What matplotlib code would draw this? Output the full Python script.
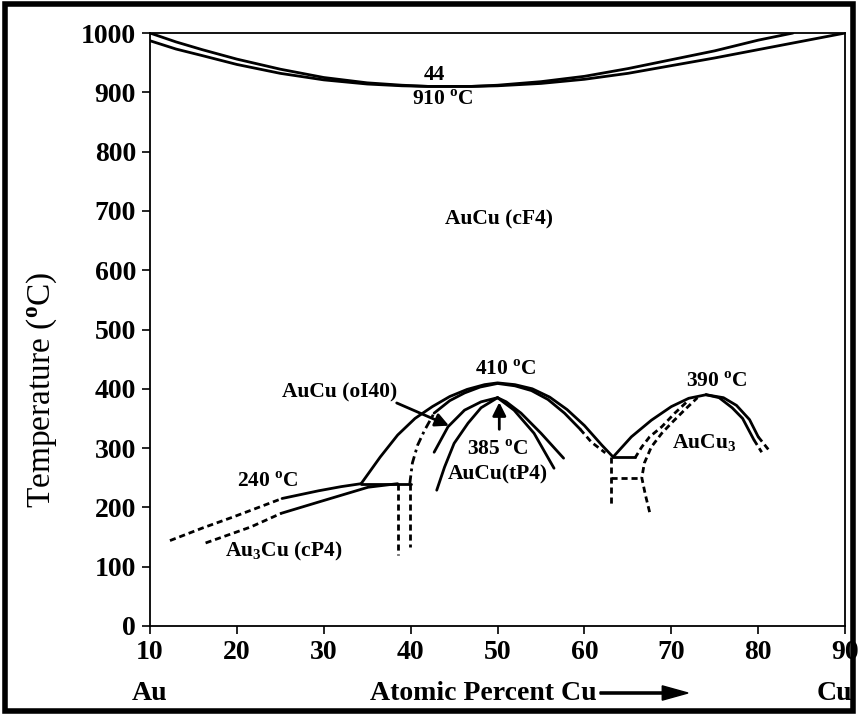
import matplotlib
matplotlib.use('Agg')
import matplotlib.pyplot as plt
from matplotlib.patches import Rectangle, FancyArrow

plt.rcParams['font.family'] = ['Liberation Serif', 'DejaVu Serif']
plt.rcParams['font.weight'] = 'bold'
plt.rcParams['mathtext.fontset'] = 'custom'
plt.rcParams['mathtext.rm'] = 'Liberation Serif:bold'
plt.rcParams['mathtext.sf'] = 'Liberation Serif'

# liquidus / solidus
liq_x = [10, 13, 16, 20, 25, 30, 35, 39, 42, 47, 50, 55, 60, 65, 70, 75, 80, 84]
liq_T = [1000, 985, 972, 956, 939, 925, 916, 912, 910, 910, 912, 918, 927, 940, 955, 970, 988, 1000]
sol_x = [10, 13, 16, 20, 25, 30, 35, 39, 42, 47, 50, 55, 60, 65, 70, 75, 80, 85, 90]
sol_T = [987, 973, 962, 947, 932, 921, 914, 911, 910, 910, 911, 915, 922, 932, 945, 958, 972, 986, 1000]

# Au3Cu (cP4)
cp4_up_dash_x = [12.3, 16, 19.6, 22.5, 25.2]
cp4_up_dash_T = [144, 165, 184, 200, 215]
cp4_up_x = [25.2, 29.4, 32, 34.3]
cp4_up_T = [215, 228, 235, 240]
cp4_lo_dash_x = [16.4, 21.6, 25.1]
cp4_lo_dash_T = [140, 167, 190]
cp4_lo_x = [25.1, 29.4, 35.1, 38.5]
cp4_lo_T = [190, 209, 234, 240]
eut240_x = [34.3, 40.0]
eut240_T = [240, 240]
vert1_x = [38.5, 38.5]
vert1_T = [240, 119]
vert2_x = [39.9, 39.9]
vert2_T = [240, 134]

# AuCu (oI40)
oi40_out_x = [34.3, 36.5, 38.5, 40.5, 42.5, 44.5, 46.5, 48.5, 50, 52, 54, 56, 58, 60, 62, 63.3]
oi40_out_T = [240, 285, 322, 350, 370, 387, 399, 407, 410, 407, 400, 386, 365, 338, 305, 285]
oi40_in_dash_x = [39.9, 40.2, 40.8, 41.6, 42.7]
oi40_in_dash_T = [240, 275, 305, 330, 359]
oi40_in_x = [42.7, 44.5, 46.2, 48, 50, 52, 53.9, 55.8, 57.7, 59.5]
oi40_in_T = [359, 380, 393, 403, 409, 405, 397, 382, 359, 332]
oi40_in_rdash_x = [59.5, 60.8, 62.4]
oi40_in_rdash_T = [332, 310, 292]

# AuCu (tP4)
tp4_a_x = [42.7, 44.3, 46.2, 48.1, 50]
tp4_a_T = [293, 336, 364, 378, 385]
tp4_b_x = [43, 43.9, 45, 46.6, 48.1, 50]
tp4_b_T = [229, 268, 308, 342, 368, 385]
tp4_c_x = [50, 51, 52.7, 55, 57.6]
tp4_c_T = [385, 378, 359, 325, 283]
tp4_d_x = [50, 51.9, 54.2, 56.5]
tp4_d_T = [385, 364, 325, 266]

# AuCu3
c3_left_x = [63.3, 65.4, 67.7, 70, 72, 74]
c3_left_T = [285, 319, 347, 370, 384, 390]
c3_ro_x = [74, 76, 77.5, 79, 80]
c3_ro_T = [390, 385, 372, 348, 319]
c3_ro_dash_x = [80, 81.2]
c3_ro_dash_T = [319, 297]
c3_ri_x = [74, 75.5, 77, 78.2, 79.5]
c3_ri_T = [390, 385, 368, 350, 314]
c3_ri_dash_x = [79.5, 80.4]
c3_ri_dash_T = [314, 293]
c3_d1_x = [65.8, 66.6, 67.5, 68.9, 70.4, 72.0]
c3_d1_T = [283, 302, 319, 336, 359, 381]
c3_d2_x = [67.5, 67.0, 66.6, 66.9, 67.7, 68.9, 70.0, 71.5, 73]
c3_d2_T = [192, 222, 250, 275, 302, 325, 342, 364, 385]
eut285_x = [63.3, 65.8]
eut285_T = [285, 285]
dash250_x = [63.1, 66.6]
dash250_T = [250, 250]
vert3_x = [63.1, 63.1]
vert3_T = [285, 204]

x_ticks = [10, 20, 30, 40, 50, 60, 70, 80, 90]
y_ticks = [0, 100, 200, 300, 400, 500, 600, 700, 800, 900, 1000]

fig = plt.figure(figsize=(8.58, 7.15), dpi=100)
ax = fig.add_axes([0.1748, 0.1245, 0.8102, 0.8293])

lw = 2.0
dash = (2.2, 1.4)
solid = dict(color='black', lw=lw, solid_capstyle='round')
dashed = dict(color='black', lw=lw, linestyle=(0, dash))

ax.plot(liq_x, liq_T, **solid)
ax.plot(sol_x, sol_T, **solid)

ax.plot(cp4_up_dash_x, cp4_up_dash_T, **dashed)
ax.plot(cp4_up_x, cp4_up_T, **solid)
ax.plot(cp4_lo_dash_x, cp4_lo_dash_T, **dashed)
ax.plot(cp4_lo_x, cp4_lo_T, **solid)
ax.plot(eut240_x, eut240_T, **solid)
ax.plot(vert1_x, vert1_T, **dashed)
ax.plot(vert2_x, vert2_T, **dashed)

ax.plot(oi40_out_x, oi40_out_T, **solid)
ax.plot(oi40_in_dash_x, oi40_in_dash_T, color='black', lw=lw, linestyle=(0, (3, 1.5, 1, 1.5)))
ax.plot(oi40_in_x, oi40_in_T, **solid)
ax.plot(oi40_in_rdash_x, oi40_in_rdash_T, **dashed)

ax.plot(tp4_a_x, tp4_a_T, **solid)
ax.plot(tp4_b_x, tp4_b_T, **solid)
ax.plot(tp4_c_x, tp4_c_T, **solid)
ax.plot(tp4_d_x, tp4_d_T, **solid)

ax.plot(c3_left_x, c3_left_T, **solid)
ax.plot(c3_ro_x, c3_ro_T, **solid)
ax.plot(c3_ro_dash_x, c3_ro_dash_T, **dashed)
ax.plot(c3_ri_x, c3_ri_T, **solid)
ax.plot(c3_ri_dash_x, c3_ri_dash_T, **dashed)
ax.plot(c3_d1_x, c3_d1_T, **dashed)
ax.plot(c3_d2_x, c3_d2_T, **dashed)
ax.plot(eut285_x, eut285_T, **solid)
ax.plot(dash250_x, dash250_T, **dashed)
ax.plot(vert3_x, vert3_T, **dashed)

# labels
fs = 15.5
ax.text(42.7, 930, '44', fontsize=fs, ha='center', va='center')
ax.text(43.7, 887, r'910 $^{\rm o}$C', fontsize=fs, ha='center', va='center')
ax.text(50.2, 685, 'AuCu (cF4)', fontsize=fs, ha='center', va='center')
ax.text(51.0, 432, r'410 $^{\rm o}$C', fontsize=fs, ha='center', va='center')
ax.text(31.8, 393, 'AuCu (oI40)', fontsize=fs, ha='center', va='center')
ax.annotate('', xy=(44.7, 336), xytext=(38.1, 378),
            arrowprops=dict(arrowstyle='-|>', color='black', lw=2, mutation_scale=20))
ax.text(50.0, 297, r'385 $^{\rm o}$C', fontsize=fs, ha='center', va='center')
ax.annotate('', xy=(50.2, 382), xytext=(50.2, 327),
            arrowprops=dict(arrowstyle='-|>', color='black', lw=2, mutation_scale=20))
ax.text(50.0, 255, 'AuCu(tP4)', fontsize=fs, ha='center', va='center')
ax.text(23.6, 243, r'240 $^{\rm o}$C', fontsize=fs, ha='center', va='center')
ax.text(25.4, 125, r'Au$_3$Cu (cP4)', fontsize=fs, ha='center', va='center')
ax.text(75.2, 412, r'390 $^{\rm o}$C', fontsize=fs, ha='center', va='center')
ax.text(73.8, 309, r'AuCu$_3$', fontsize=fs, ha='center', va='center')

ax.set_xlim(10, 90)
ax.set_ylim(0, 1000)
ax.set_xticks(x_ticks)
ax.set_yticks(y_ticks)
ax.tick_params(labelsize=20, direction='out', length=6, width=1.2, pad=4)
for lab in ax.get_xticklabels() + ax.get_yticklabels():
    lab.set_fontweight('bold')
for s in ax.spines.values():
    s.set_linewidth(1.3)

fig.text(42 / 858, 1 - 390 / 715, r'Temperature ($\mathsf{^o}$C)', rotation=90,
         fontsize=24, fontweight='normal', ha='center', va='center')
fig.text(150 / 858, 1 - 693 / 715, 'Au', fontsize=20, ha='center', va='center')
fig.text(834 / 858, 1 - 693 / 715, 'Cu', fontsize=20, ha='center', va='center')
fig.text(483 / 858, 1 - 693 / 715, 'Atomic Percent Cu', fontsize=20, ha='center', va='center')
fig.patches.append(FancyArrow(
    600 / 858, 1 - 693 / 715, 88 / 858, 0, width=0.003, head_width=0.02,
    head_length=0.03, length_includes_head=True, color='black', transform=fig.transFigure))

fig.patches.append(Rectangle((0.006, 0.006), 0.988, 0.988, fill=False, lw=4,
                             edgecolor='black', transform=fig.transFigure))

fig.savefig('out.png', dpi=100)
